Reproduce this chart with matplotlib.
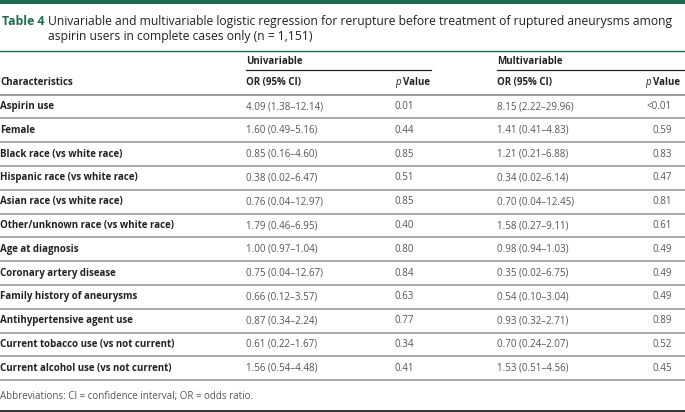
import matplotlib
matplotlib.use("Agg")
import matplotlib.pyplot as plt

# table data
characteristics = [
    "Aspirin use",
    "Female",
    "Black race (vs white race)",
    "Hispanic race (vs white race)",
    "Asian race (vs white race)",
    "Other/unknown race (vs white race)",
    "Age at diagnosis",
    "Coronary artery disease",
    "Family history of aneurysms",
    "Antihypertensive agent use",
    "Current tobacco use (vs not current)",
    "Current alcohol use (vs not current)",
]
uni_or = ["4.09 (1.38–12.14)", "1.60 (0.49–5.16)", "0.85 (0.16–4.60)", "0.38 (0.02–6.47)",
          "0.76 (0.04–12.97)", "1.79 (0.46–6.95)", "1.00 (0.97–1.04)", "0.75 (0.04–12.67)",
          "0.66 (0.12–3.57)", "0.87 (0.34–2.24)", "0.61 (0.22–1.67)", "1.56 (0.54–4.48)"]
uni_p = ["0.01", "0.44", "0.85", "0.51", "0.85", "0.40", "0.80", "0.84", "0.63", "0.77", "0.34", "0.41"]
multi_or = ["8.15 (2.22–29.96)", "1.41 (0.41–4.83)", "1.21 (0.21–6.88)", "0.34 (0.02–6.14)",
            "0.70 (0.04–12.45)", "1.58 (0.27–9.11)", "0.98 (0.94–1.03)", "0.35 (0.02–6.75)",
            "0.54 (0.10–3.04)", "0.93 (0.32–2.71)", "0.70 (0.24–2.07)", "1.53 (0.51–4.56)"]
multi_p = ["<0.01", "0.59", "0.83", "0.47", "0.81", "0.61", "0.49", "0.49", "0.49", "0.89", "0.52", "0.45"]

title_lab = "Table 4"
title_1 = "Univariable and multivariable logistic regression for rerupture before treatment of ruptured aneurysms among"
title_2 = "aspirin users in complete cases only (n = 1,151)"
footnote = "Abbreviations: CI = confidence interval; OR = odds ratio."

plt.rcParams['font.family'] = ['Open Sans', 'DejaVu Sans']

green = "#1d6b4c"
dark = "#222222"
grey_txt = "#555555"
rule = "#9a9a9a"

W, H = 685, 412
fig = plt.figure(figsize=(W / 100, H / 100), dpi=100)
ax = fig.add_axes([0, 0, 1, 1])
ax.set_xlim(0, W)
ax.set_ylim(H, 0)
ax.axis("off")

# top bar and title
ax.axhspan(0, 3.5, color=green, lw=0)
ax.text(2, 21, title_lab, color=green, fontsize=8.8, fontweight="bold", va="center")
ax.text(48, 21, title_1, color=dark, fontsize=8.75, va="center")
ax.text(48, 36, title_2, color=dark, fontsize=8.75, va="center")
ax.plot([0, W], [51, 51], color=green, lw=1.0)

# column positions
x_or1, x_p1, x_or2, x_p2h, x_p2 = 246, 395, 497, 645, 672
hs = 7.0

ax.text(x_or1, 61, "Univariable", color=dark, fontsize=hs, fontweight="bold", va="center")
ax.text(x_or2, 61, "Multivariable", color=dark, fontsize=hs, fontweight="bold", va="center")
ax.plot([x_or1, 431], [70, 70], color=dark, lw=0.9)
ax.plot([x_or2, W], [70, 70], color=dark, lw=0.9)

ax.text(0, 82, "Characteristics", color=dark, fontsize=hs, fontweight="bold", va="center")
ax.text(x_or1, 82, "OR (95% CI)", color=dark, fontsize=hs, fontweight="bold", va="center")
ax.text(x_or2, 82, "OR (95% CI)", color=dark, fontsize=hs, fontweight="bold", va="center")
for xp in (x_p1, x_p2h):
    ax.text(xp, 82, "p", color=dark, fontsize=hs, fontstyle="italic", va="center")
    ax.text(xp + 8, 82, "Value", color=dark, fontsize=hs, fontweight="bold", va="center")
ax.plot([0, W], [94.5, 94.5], color=rule, lw=1.4)

y0, pitch = 106.5, 23.8
for i, name in enumerate(characteristics):
    y = y0 + i * pitch
    ax.text(0, y, name, color=dark, fontsize=hs, fontweight="bold", va="center")
    ax.text(x_or1, y, uni_or[i], color=grey_txt, fontsize=hs, va="center")
    ax.text(x_p1, y, uni_p[i], color=grey_txt, fontsize=hs, va="center")
    ax.text(x_or2, y, multi_or[i], color=grey_txt, fontsize=hs, va="center")
    ax.text(x_p2, y, multi_p[i], color=grey_txt, fontsize=hs, va="center", ha="right")
    ax.plot([0, W], [y + pitch / 2, y + pitch / 2], color=rule, lw=1.2)

ax.text(0, 397, footnote, color=grey_txt, fontsize=hs, va="center")
ax.plot([0, W], [410.5, 410.5], color="#111111", lw=1.2)

fig.savefig("out.png", dpi=100)
